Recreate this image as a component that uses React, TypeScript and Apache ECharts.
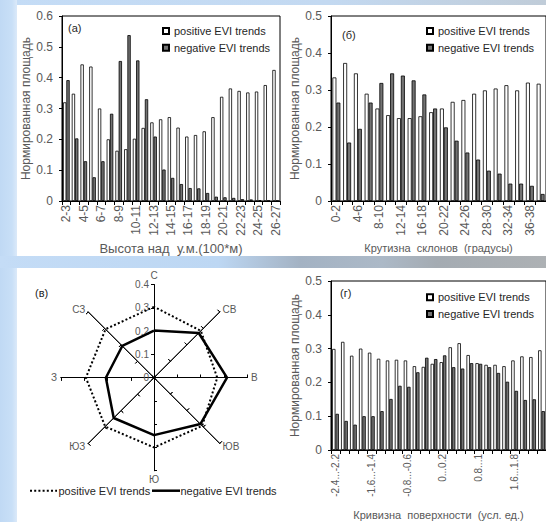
import React, { useEffect, useRef } from "react";
import * as echarts from "echarts";

// ---- (a) elevation classes, 100*m ----
const heightCats = [
  "2-3", "3-4", "4-5", "5-6", "6-7", "7-8", "8-9", "9-10", "10-11", "11-12", "12-13", "13-14",
  "14-15", "15-16", "16-17", "17-18", "18-19", "19-20", "20-21", "21-22", "22-23", "23-24",
  "24-25", "25-26", "26-27",
];
const heightPositive = [
  0.32, 0.348, 0.443, 0.436, 0.3, 0.2, 0.163, 0.168, 0.202, 0.237, 0.255, 0.265, 0.272,
  0.238, 0.209, 0.214, 0.226, 0.272, 0.338, 0.365, 0.357, 0.352, 0.355, 0.376, 0.425,
];
const heightNegative = [
  0.392, 0.203, 0.129, 0.077, 0.129, 0.283, 0.454, 0.538, 0.456, 0.33, 0.209, 0.102, 0.075,
  0.055, 0.042, 0.041, 0.026, 0.014, 0.012, 0.01, 0.006, 0.005, 0.002, 0.001, 0.001,
];

// ---- (б) slope classes, degrees ----
const slopeCats = [
  "0-2", "2-4", "4-6", "6-8", "8-10", "10-12", "12-14", "14-16", "16-18", "18-20",
  "20-22", "22-24", "24-26", "26-28", "28-30", "30-32", "32-34", "34-36", "36-38", "38-40",
];
const slopePositive = [
  0.334, 0.373, 0.345, 0.29, 0.25, 0.232, 0.224, 0.224, 0.229, 0.24,
  0.25, 0.268, 0.273, 0.29, 0.299, 0.304, 0.313, 0.299, 0.32, 0.317,
];
const slopeNegative = [
  0.266, 0.158, 0.195, 0.266, 0.319, 0.345, 0.339, 0.326, 0.288, 0.25,
  0.199, 0.163, 0.131, 0.112, 0.082, 0.074, 0.047, 0.047, 0.041, 0.019,
];

// ---- (г) surface curvature classes ----
const curvCats = [
  "-2.4...-2.2", "-2.2...-2", "-2...-1.8", "-1.8...-1.6", "-1.6...-1.4", "-1.4...-1.2",
  "-1.2...-1", "-1...-0.8", "-0.8...-0.6", "-0.6...-0.4", "-0.4...-0.2", "-0.2...0",
  "0...0.2", "0.2...0.4", "0.4...0.6", "0.6...0.8", "0.8...1", "1...1.2",
  "1.2...1.4", "1.4...1.6", "1.6...1.8", "1.8...2", "2...2.2", "2.2...2.4",
];
const curvPositive = [
  0.299, 0.32, 0.279, 0.3, 0.288, 0.27, 0.265, 0.267, 0.265, 0.248, 0.246, 0.255,
  0.26, 0.304, 0.316, 0.281, 0.257, 0.252, 0.252, 0.248, 0.265, 0.277, 0.275, 0.295,
];
const curvNegative = [
  0.107, 0.086, 0.075, 0.1, 0.1, 0.115, 0.151, 0.19, 0.187, 0.23, 0.273, 0.269,
  0.28, 0.245, 0.241, 0.257, 0.255, 0.245, 0.228, 0.202, 0.175, 0.148, 0.15, 0.115,
];

// ---- (в) exposure, compass order N → NW ----
const directions = ["С", "СВ", "В", "ЮВ", "Ю", "ЮЗ", "З", "СЗ"];
const dirPositive = [0.305, 0.285, 0.272, 0.293, 0.3, 0.297, 0.293, 0.295];
const dirNegative = [0.203, 0.272, 0.314, 0.282, 0.247, 0.245, 0.207, 0.193];
const radarTicks = [0, 0.1, 0.2, 0.3, 0.4];

const POS = "positive EVI trends";
const NEG = "negative EVI trends";
const FONT = "'Liberation Sans', Arial, sans-serif";
const GRAY = "#595959";
const INK = "#262626";

// radar indicators run counter-clockwise from the top
const ccw = [0, 7, 6, 5, 4, 3, 2, 1];

function barSeries(xi: number, pos: number[], neg: number[], width: string) {
  return [
    {
      type: "bar", name: POS, xAxisIndex: xi, yAxisIndex: xi, data: pos,
      barWidth: width, barGap: "0%",
      itemStyle: { color: "#ffffff", borderColor: "#000", borderWidth: 0.8 },
    },
    {
      type: "bar", name: NEG, xAxisIndex: xi, yAxisIndex: xi, data: neg,
      barWidth: width, barGap: "0%",
      itemStyle: { color: "#737373", borderColor: "#000", borderWidth: 0.8 },
    },
  ];
}

function catAxis(
  gi: number, data: string[], name: string, nameGap: number,
  labelSize: number, labelInterval: number, nameSize: number,
) {
  return {
    type: "category", gridIndex: gi, data,
    axisLine: { lineStyle: { color: "#000", width: 1 } },
    axisTick: { show: true, interval: 0, length: 4, lineStyle: { color: "#000" } },
    axisLabel: { interval: labelInterval, rotate: 90, fontSize: labelSize, color: GRAY, margin: 4, fontFamily: FONT },
    name, nameLocation: "middle", nameGap,
    nameTextStyle: { fontSize: nameSize, color: GRAY, fontFamily: FONT },
  };
}

function valAxis(gi: number, max: number) {
  return {
    type: "value", gridIndex: gi, min: 0, max, interval: 0.1,
    axisLine: { show: true, lineStyle: { color: "#000", width: 1 } },
    axisTick: { show: true, length: 3, lineStyle: { color: "#000" } },
    axisLabel: { fontSize: 12, color: GRAY, margin: 9, fontFamily: FONT },
    splitLine: { show: false },
    name: "Нормированная площадь", nameLocation: "middle", nameGap: 27,
    nameTextStyle: { fontSize: 12, color: GRAY, fontFamily: FONT },
  };
}

function barLegend(left: number, top: number) {
  return {
    data: [POS, NEG], orient: "vertical", left, top, icon: "rect",
    itemWidth: 6, itemHeight: 6, itemGap: 3.7, selectedMode: false,
    textStyle: { fontSize: 11, color: INK, fontFamily: FONT, lineHeight: 13 },
  };
}

function radarBase(showNames: boolean, inside: boolean) {
  return {
    center: [154, 377.7], radius: 93, startAngle: 90, splitNumber: 4, shape: "polygon",
    indicator: ccw.map((i) => ({ name: directions[i], min: 0, max: 0.4 })),
    axisName: { show: showNames, color: GRAY, fontSize: 10, fontFamily: FONT },
    nameGap: 4,
    axisLine: { show: true, lineStyle: { color: "#000", width: 1 } },
    axisTick: { show: true, inside, length: 3, lineStyle: { color: "#000", width: 1 } },
    axisLabel: { show: false },
    splitLine: { show: false },
    splitArea: { show: false },
  };
}

const textStyle = (fontSize: number, fill: string) => ({ fill, fontSize, fontFamily: FONT });

export default function App() {
  const ref = useRef<HTMLDivElement>(null);

  useEffect(() => {
    if (!ref.current) return;
    const chart = echarts.init(ref.current, undefined, { renderer: "svg" });

    const option: any = {
      animation: false,
      backgroundColor: "#c5ddf6",
      graphic: [
        // frame: top strip, left strip, middle band, white panels
        {
          type: "rect", z: -20, silent: true, shape: { x: 0, y: 0, width: 546, height: 5 },
          style: {
            fill: { type: "linear", x: 0, y: 0, x2: 1, y2: 0, colorStops: [
              { offset: 0, color: "#c4dcf6" }, { offset: 0.6, color: "#c3d9f1" }, { offset: 1, color: "#c0ccd8" },
            ] },
          },
        },
        {
          type: "rect", z: -20, silent: true, shape: { x: 0, y: 0, width: 17, height: 522 },
          style: {
            fill: { type: "linear", x: 0, y: 0, x2: 1, y2: 0, colorStops: [
              { offset: 0, color: "#c0d9f4" }, { offset: 0.7, color: "#c8dff7" }, { offset: 1, color: "#dbe9f9" },
            ] },
          },
        },
        {
          type: "rect", z: -20, silent: true, shape: { x: 0, y: 256, width: 546, height: 12 },
          style: {
            fill: { type: "linear", x: 0, y: 0, x2: 1, y2: 0, colorStops: [
              { offset: 0, color: "#c4dcf6" }, { offset: 0.4, color: "#bdd7f3" },
              { offset: 0.55, color: "#a3b2c3" }, { offset: 0.7, color: "#acb9c7" },
              { offset: 0.8, color: "#a4abb2" }, { offset: 1, color: "#adb1b4" },
            ] },
          },
        },
        {
          type: "rect", z: -19, silent: true, shape: { x: 17, y: 5, width: 529, height: 251 },
          style: { fill: "#ffffff" },
        },
        {
          type: "rect", z: -19, silent: true, shape: { x: 17, y: 268, width: 529, height: 254 },
          style: { fill: "#ffffff" },
        },
        // panel letters
        { type: "text", x: 68, y: 28, style: { text: "(a)", ...textStyle(11, INK), verticalAlign: "middle" } },
        { type: "text", x: 342, y: 35, style: { text: "(б)", ...textStyle(11, INK), verticalAlign: "middle" } },
        { type: "text", x: 35, y: 293, style: { text: "(в)", ...textStyle(11, INK), verticalAlign: "middle" } },
        { type: "text", x: 340, y: 293, style: { text: "(г)", ...textStyle(11, INK), verticalAlign: "middle" } },
        // radar legend
        {
          type: "line", shape: { x1: 30, y1: 490.7, x2: 57, y2: 490.7 },
          style: { stroke: "#000", lineWidth: 2, lineDash: [2, 2.2] },
        },
        { type: "text", x: 58.5, y: 490.7, style: { text: POS, ...textStyle(11, INK), verticalAlign: "middle" } },
        {
          type: "line", shape: { x1: 152, y1: 490.7, x2: 180, y2: 490.7 },
          style: { stroke: "#000", lineWidth: 2.5 },
        },
        { type: "text", x: 180.5, y: 490.7, style: { text: NEG, ...textStyle(11, INK), verticalAlign: "middle" } },
      ],
      grid: [
        { left: 62, top: 16, width: 218, height: 185, show: true, borderColor: "#000", borderWidth: 1, backgroundColor: "transparent" },
        { left: 331, top: 16, width: 218, height: 185, show: true, borderColor: "#000", borderWidth: 1, backgroundColor: "transparent" },
        { left: 331, top: 281, width: 217, height: 169, show: true, borderColor: "#000", borderWidth: 1, backgroundColor: "transparent" },
        // scale labels of the exposure diagram, laid along its northern axis
        { left: 154, top: 377.7 - 93, width: 1, height: 93 },
      ],
      xAxis: [
        catAxis(0, heightCats, "Высота над  у.м.(100*м)", 41, 12, 1, 13),
        catAxis(1, slopeCats, "Крутизна  склонов  (градусы)", 41, 12, 1, 11),
        catAxis(2, curvCats, "Кривизна  поверхности  (усл. ед.)", 59, 10, 3, 11),
        { type: "value", gridIndex: 3, show: false, min: 0, max: 1 },
      ],
      yAxis: [
        valAxis(0, 0.6),
        valAxis(1, 0.5),
        valAxis(2, 0.5),
        {
          type: "value", gridIndex: 3, min: radarTicks[0], max: radarTicks[radarTicks.length - 1], interval: 0.1,
          axisLine: { show: false }, axisTick: { show: false }, splitLine: { show: false },
          axisLabel: { fontSize: 10, color: GRAY, margin: 5, fontFamily: FONT },
        },
      ],
      legend: [barLegend(157, 19.5), barLegend(421, 19.5), barLegend(421, 285.8)],
      radar: [radarBase(true, false), radarBase(false, true)],
      series: [
        ...barSeries(0, heightPositive, heightNegative, "38%"),
        ...barSeries(1, slopePositive, slopeNegative, "37%"),
        ...barSeries(2, curvPositive, curvNegative, "38%"),
        {
          type: "radar", radarIndex: 0, symbol: "none", silent: true,
          data: [{ name: POS, value: ccw.map((i) => dirPositive[i]) }],
          lineStyle: { color: "#000", width: 2, type: [2, 2.2] },
          itemStyle: { color: "#000" },
        },
        {
          type: "radar", radarIndex: 0, symbol: "none", silent: true,
          data: [{ name: NEG, value: ccw.map((i) => dirNegative[i]) }],
          lineStyle: { color: "#000", width: 2.5 },
          itemStyle: { color: "#000" },
        },
      ],
    };

    chart.setOption(option);
    return () => chart.dispose();
  }, []);

  return (
    <div
      ref={ref}
      style={{ position: "absolute", left: 0, top: 0, width: 546, height: 522 }}
    />
  );
}
